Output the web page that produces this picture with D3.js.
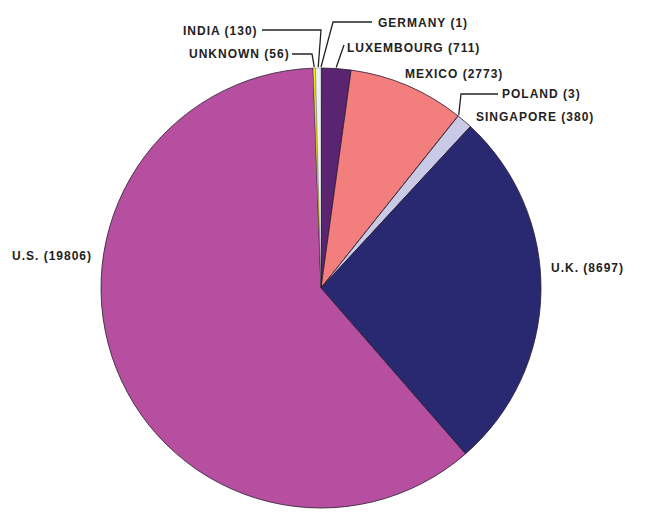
<!DOCTYPE html>
<html>
<head>
<meta charset="utf-8">
<script src="https://cdn.jsdelivr.net/npm/d3@7"></script>
<style>
  body { margin: 0; background: #fff; }
  text { font-family: "Liberation Sans", Arial, sans-serif; font-weight: bold; font-size: 12px; letter-spacing: 1px; fill: #222; }
</style>
</head>
<body>
<svg id="chart" width="650" height="516"></svg>
<script>
d3.select(window).on('load', init);

// slices, clockwise from 12 o'clock
var countries = ['GERMANY', 'LUXEMBOURG', 'MEXICO', 'POLAND', 'SINGAPORE', 'U.K.', 'U.S.', 'UNKNOWN', 'INDIA'];
var counts = [1, 711, 2773, 3, 380, 8697, 19806, 56, 130];
var colors = ['#e9f4f2', '#5b2470', '#f27e7e', '#c9cbe6', '#c9cbe6', '#282970', '#b64fa0', '#f5ee10', '#e9f4f2'];

// label placement: text start, baseline, and leader elbow/end (null = no leader)
var labelX = [378, 347, 405, 502, 476, 551, 12, 189, 183];
var labelY = [27, 52, 78, 98, 121, 272, 260, 58, 35];
var leaders = [
  [[333, 22], [372, 22]],
  [[344, 45]],
  null,
  [[461, 94], [498, 94]],
  null,
  null,
  null,
  [[312, 54], [292, 54]],
  [[321, 30], [262, 30]]
];

function init() {
  var svg = d3.select('#chart');
  var cx = 321, cy = 288, r = 220;

  var data = countries.map(function(c, i) {
    return {name: c, value: counts[i], color: colors[i], i: i};
  });

  var pie = d3.pie().sort(null).value(function(d) { return d.value; });
  var arcs = pie(data);
  var arc = d3.arc().innerRadius(0).outerRadius(r);

  var g = svg.append('g').attr('transform', 'translate(' + cx + ',' + cy + ')');

  g.selectAll('path')
    .data(arcs)
    .enter()
    .append('path')
    .attr('d', arc)
    .attr('fill', function(d) { return d.data.color; })
    .attr('stroke', '#2b1a2e')
    .attr('stroke-width', function(d) { return d.data.value < 200 ? 0.3 : 0.8; })
    .attr('stroke-linejoin', 'round');

  // leaders start at the slice's mid angle on the rim
  var line = d3.line();
  arcs.forEach(function(a) {
    var pts = leaders[a.data.i];
    if (!pts) return;
    var mid = (a.startAngle + a.endAngle) / 2;
    var start = [cx + Math.sin(mid) * (r + 1), cy - Math.cos(mid) * (r + 1)];
    svg.append('path')
      .attr('d', line([start].concat(pts)))
      .attr('fill', 'none')
      .attr('stroke', '#222')
      .attr('stroke-width', 1.3);
  });

  svg.selectAll('text.lbl')
    .data(data)
    .enter()
    .append('text')
    .attr('class', 'lbl')
    .attr('x', function(d) { return labelX[d.i]; })
    .attr('y', function(d) { return labelY[d.i]; })
    .text(function(d) { return d.name + ' (' + d.value + ')'; });
}
</script>
</body>
</html>
